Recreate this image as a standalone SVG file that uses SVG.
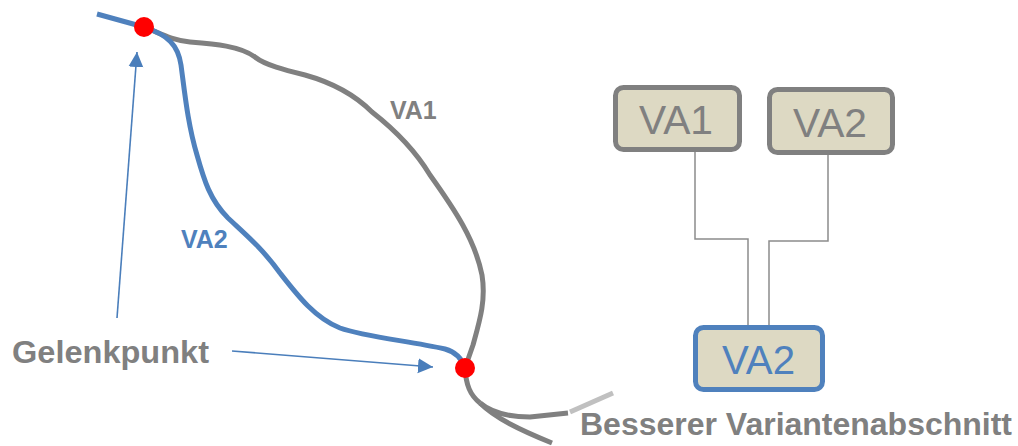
<svg xmlns="http://www.w3.org/2000/svg" width="1018" height="446" viewBox="0 0 1018 446">
<style>
.route{fill:none;stroke-width:5;stroke-linecap:butt;stroke-linejoin:round}
.gray{stroke:#808080}
.blue{stroke:#4f81bd}
.lbl{font-family:"Liberation Sans",Arial,sans-serif;font-weight:bold}
.box{fill:#ddd9c3;stroke-width:5}
.boxtxt{font-family:"Liberation Sans",Arial,sans-serif;font-size:40px;text-anchor:middle}
.conn{fill:none;stroke:#8c8c8c;stroke-width:1.5}
.arrow{fill:none;stroke:#4a7ebb;stroke-width:1.6}
.joint{fill:#ff0000}
</style>
<defs>
<marker id="ah" markerUnits="userSpaceOnUse" markerWidth="16" markerHeight="16" viewBox="0 0 16 16" refX="15" refY="8" orient="auto">
<path d="M0,0.5 L15,8 L0,15.5 z" fill="#4a7ebb"/>
</marker>
</defs>
<g id="routes">
<path class="route gray" d="M144,27 C160,33 170,40 190,42 C215,44 240,46 255,57 C265,65 285,70 305,75 C330,82 355,95 372,112 C395,130 415,150 430,175 C455,210 475,240 482,275 C486,300 480,320 473,345 L465,368"/>
<path class="route gray" d="M465,368 C466,385 470,395 480,403"/>
<path class="route gray" d="M480,403 C492,413 510,417 530,417 L568,413"/>
<path class="route gray" d="M480,403 C495,418 520,430 552,443"/>
<path class="route" stroke="#c0c0c0" d="M570,412 L613,393"/>
<path class="route blue" d="M97,14 L144,27 C168,35 178,45 181,65 C185,95 188,125 197,155 C204,180 210,200 228,218 C245,234 262,248 280,273 C298,296 315,318 340,328 C365,337 410,341 445,349 C456,352 462,359 465,368"/>
</g>
<g id="gelenk-top"><circle class="joint" cx="144" cy="27" r="10"/></g>
<g id="gelenk-bottom"><circle class="joint" cx="465" cy="368" r="10"/></g>
<g id="label-va1"><text class="lbl" x="390" y="119" font-size="25" fill="#808080">VA1</text></g>
<g id="label-va2"><text class="lbl" x="181" y="248" font-size="25" fill="#4f81bd">VA2</text></g>
<g id="label-gelenkpunkt"><text class="lbl" x="12" y="363" font-size="31" fill="#808080" textLength="197" lengthAdjust="spacingAndGlyphs">Gelenkpunkt</text></g>
<g id="label-besserer"><text class="lbl" x="580" y="435" font-size="31" fill="#808080" textLength="432" lengthAdjust="spacingAndGlyphs">Besserer Variantenabschnitt</text></g>
<g id="arrows">
<line class="arrow" x1="117" y1="318" x2="137" y2="52" marker-end="url(#ah)"/>
<line class="arrow" x1="232" y1="351" x2="433" y2="367" marker-end="url(#ah)"/>
</g>
<g id="connectors">
<path class="conn" d="M695,152 L695,239 L748,239 L748,325"/>
<path class="conn" d="M828,154 L828,241 L769,241 L769,325"/>
</g>
<g id="box-va1">
<rect class="box" x="615.5" y="87.5" width="124" height="62" rx="8" stroke="#808080"/>
<text class="boxtxt" x="676" y="134" fill="#808080" textLength="74" lengthAdjust="spacingAndGlyphs">VA1</text>
</g>
<g id="box-va2-top">
<rect class="box" x="769.5" y="89.5" width="123" height="63" rx="8" stroke="#808080"/>
<text class="boxtxt" x="830" y="137" fill="#808080" textLength="74" lengthAdjust="spacingAndGlyphs">VA2</text>
</g>
<g id="box-va2-bottom">
<rect class="box" x="695.5" y="327.5" width="127" height="62" rx="8" stroke="#4f81bd"/>
<text class="boxtxt" x="758.5" y="374" fill="#4f81bd" textLength="73" lengthAdjust="spacingAndGlyphs">VA2</text>
</g>
</svg>
